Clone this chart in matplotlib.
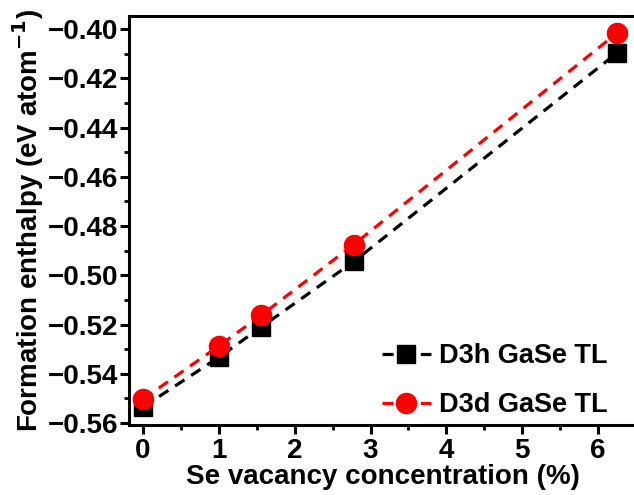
import matplotlib.pyplot as plt

plt.rcParams['font.family'] = ['Liberation Sans', 'DejaVu Sans']
plt.rcParams['font.weight'] = 'bold'
plt.rcParams['axes.labelweight'] = 'bold'

# Se vacancy concentration (%)
x_vac = [0, 1, 1.56, 2.78, 6.25]
# formation enthalpy (eV/atom)
d3h = [-0.5535, -0.5333, -0.5210, -0.4944, -0.4097]
d3d = [-0.5503, -0.5287, -0.5162, -0.4875, -0.4016]

fig = plt.figure(figsize=(6.34, 4.95), dpi=100)
ax = fig.add_axes([129 / 634, 1 - 425 / 495, 507 / 634, 409 / 495])

ax.plot(x_vac, d3h, ls=(0, (3.5, 2.5)), lw=2.3, color='black', marker='s', ms=13.5,
        label='D3h GaSe TL')
ax.plot(x_vac, d3d, ls=(0, (3.5, 2.5)), lw=2.3, color='red', marker='o', ms=14.5,
        label='D3d GaSe TL')

ax.set_xlim(-0.185, 6.5)
ax.set_ylim(-0.5608, -0.3947)
ax.set_xticks(range(7))
ax.set_xticks([0.5 + i for i in range(7)], minor=True)
ax.set_yticks([-0.56 + 0.02 * i for i in range(9)])
ax.set_yticks([-0.55 + 0.02 * i for i in range(8)], minor=True)
ax.set_yticklabels([f'{-0.56 + 0.02 * i:.2f}'.replace('-', '\u2212') for i in range(9)])

for s in ax.spines.values():
    s.set_linewidth(2.2)
ax.tick_params(which='major', direction='out', length=6.5, width=2.2, labelsize=20)
ax.tick_params(which='minor', direction='out', length=3.5, width=2)
ax.tick_params(axis='x', which='major', pad=3)
ax.tick_params(axis='y', which='major', pad=1.5)

ax.set_xlabel('Se vacancy concentration (%)', fontsize=20, labelpad=0)
ax.set_ylabel('Formation enthalpy (eV atom$^{\\mathbf{-1}}$)', fontsize=20, labelpad=1)

ax.legend(loc='lower right', frameon=False, fontsize=19.5, handlelength=1.8,
          handletextpad=0.3, labelspacing=0.85, borderaxespad=0,
          bbox_to_anchor=(0.965, -0.01))

fig.savefig('out.png', dpi=100)
